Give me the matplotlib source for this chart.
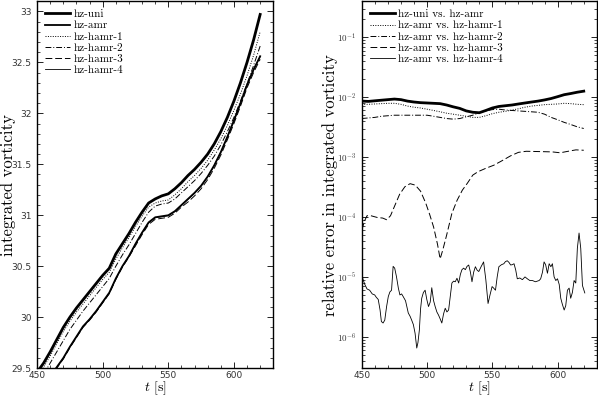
import matplotlib
matplotlib.use('Agg')
import matplotlib.pyplot as plt
from matplotlib.ticker import MultipleLocator, LogLocator, NullFormatter, FuncFormatter
import math

plt.rcParams['mathtext.fontset'] = 'cm'
plt.rcParams['axes.unicode_minus'] = False

# ---Left panel: integrated vorticity---
t = [450, 455, 460, 465, 470, 475, 480, 485, 490, 495, 500, 505, 510, 515, 520, 525,
     530, 535, 540, 545, 550, 555, 560, 565, 570, 575, 580, 585, 590, 595, 600, 605,
     610, 615, 620]
hz_uni = [29.46, 29.55, 29.66, 29.78, 29.90, 30.00, 30.09, 30.17, 30.25, 30.33, 30.41,
          30.48, 30.62, 30.72, 30.82, 30.93, 31.03, 31.12, 31.16, 31.19, 31.21, 31.26,
          31.32, 31.39, 31.45, 31.52, 31.60, 31.70, 31.82, 31.96, 32.12, 32.30, 32.50,
          32.72, 32.97]
hz_amr = [29.27, 29.34, 29.42, 29.51, 29.60, 29.71, 29.81, 29.91, 29.98, 30.06, 30.15,
          30.24, 30.38, 30.50, 30.60, 30.72, 30.83, 30.93, 30.98, 30.99, 31.00, 31.04,
          31.10, 31.16, 31.22, 31.29, 31.38, 31.49, 31.62, 31.77, 31.93, 32.10, 32.28,
          32.43, 32.56]
hz_hamr1 = [29.42, 29.51, 29.62, 29.74, 29.86, 29.96, 30.05, 30.13, 30.21, 30.29, 30.37,
            30.44, 30.57, 30.68, 30.78, 30.89, 30.99, 31.08, 31.12, 31.14, 31.15, 31.20,
            31.26, 31.33, 31.39, 31.46, 31.54, 31.64, 31.75, 31.88, 32.03, 32.19, 32.37,
            32.57, 32.80]
hz_hamr2 = [29.36, 29.44, 29.55, 29.66, 29.77, 29.88, 29.97, 30.06, 30.14, 30.22, 30.30,
            30.38, 30.50, 30.61, 30.71, 30.82, 30.93, 31.03, 31.09, 31.11, 31.12, 31.16,
            31.22, 31.28, 31.34, 31.41, 31.49, 31.58, 31.69, 31.82, 31.96, 32.12, 32.29,
            32.47, 32.66]
hz_hamr3 = [29.26, 29.33, 29.41, 29.50, 29.59, 29.70, 29.80, 29.90, 29.97, 30.05, 30.14,
            30.23, 30.37, 30.49, 30.59, 30.70, 30.81, 30.91, 30.96, 30.97, 30.98, 31.02,
            31.08, 31.13, 31.19, 31.26, 31.35, 31.46, 31.59, 31.74, 31.90, 32.07, 32.25,
            32.40, 32.53]
hz_hamr4 = [29.265, 29.335, 29.415, 29.505, 29.595, 29.705, 29.805, 29.905, 29.975,
            30.055, 30.145, 30.235, 30.375, 30.495, 30.595, 30.715, 30.825, 30.925,
            30.975, 30.985, 30.995, 31.035, 31.095, 31.155, 31.215, 31.285, 31.375,
            31.485, 31.615, 31.765, 31.925, 32.095, 32.275, 32.425, 32.555]

# ---Right panel: relative errors---
t_err = [450, 455, 460, 465, 470, 475, 480, 485, 490, 495, 500, 505, 510, 515, 520, 525,
         530, 535, 540, 545, 550, 555, 560, 565, 570, 575, 580, 585, 590, 595, 600, 605,
         610, 615, 620]
err_uni_amr = [8.6e-3, 8.5e-3, 8.7e-3, 8.9e-3, 9.1e-3, 9.3e-3, 9.1e-3, 8.6e-3, 8.3e-3,
               8.1e-3, 8.0e-3, 7.9e-3, 7.8e-3, 7.4e-3, 6.9e-3, 6.5e-3, 5.9e-3, 5.6e-3,
               5.5e-3, 6.0e-3, 6.6e-3, 7.0e-3, 7.2e-3, 7.4e-3, 7.7e-3, 8.0e-3, 8.3e-3,
               8.6e-3, 9.0e-3, 9.5e-3, 1.02e-2, 1.1e-2, 1.15e-2, 1.21e-2, 1.26e-2]
err_amr_hamr1 = [7.6e-3, 7.6e-3, 7.7e-3, 7.8e-3, 7.9e-3, 7.9e-3, 7.6e-3, 7.1e-3, 6.8e-3,
                 6.6e-3, 6.3e-3, 6.0e-3, 5.7e-3, 5.4e-3, 5.2e-3, 5.0e-3, 4.8e-3, 4.6e-3,
                 4.6e-3, 4.9e-3, 5.3e-3, 5.6e-3, 5.8e-3, 6.1e-3, 6.4e-3, 6.8e-3, 7.1e-3,
                 7.3e-3, 7.5e-3, 7.6e-3, 7.7e-3, 7.9e-3, 7.8e-3, 7.6e-3, 7.5e-3]
err_amr_hamr2 = [4.4e-3, 4.5e-3, 4.6e-3, 4.8e-3, 4.9e-3, 5.0e-3, 5.0e-3, 5.0e-3, 5.0e-3,
                 5.0e-3, 5.0e-3, 4.8e-3, 4.6e-3, 4.4e-3, 4.3e-3, 4.4e-3, 4.7e-3, 5.0e-3,
                 5.5e-3, 5.9e-3, 6.2e-3, 6.3e-3, 6.1e-3, 6.0e-3, 5.9e-3, 5.8e-3, 5.7e-3,
                 5.6e-3, 5.2e-3, 4.6e-3, 4.2e-3, 3.8e-3, 3.5e-3, 3.2e-3, 3.0e-3]
t_err3 = [450, 452, 454, 457, 462, 466, 469, 472, 475, 479, 483, 487, 491, 495, 499, 502,
          505, 508, 510, 512, 515, 519, 523, 527, 531, 535, 539, 545, 551, 557, 564, 570,
          576, 583, 590, 596, 602, 608, 614, 620]
err_amr_hamr3 = [6.0e-5, 8.5e-5, 1.05e-4, 1.05e-4, 9.8e-5, 9.6e-5, 9.0e-5, 1.05e-4,
                 1.5e-4, 2.4e-4, 3.2e-4, 3.6e-4, 3.4e-4, 2.7e-4, 1.7e-4, 1.1e-4, 6.8e-5,
                 3.5e-5, 2.0e-5, 2.8e-5, 5.0e-5, 1.15e-4, 1.9e-4, 2.8e-4, 3.7e-4, 5.0e-4,
                 5.7e-4, 6.5e-4, 7.3e-4, 8.6e-4, 1.05e-3, 1.2e-3, 1.25e-3, 1.24e-3,
                 1.23e-3, 1.22e-3, 1.18e-3, 1.25e-3, 1.32e-3, 1.3e-3]
t_err4 = [450, 451, 452.3, 454, 456, 458, 459.9, 461, 462.6, 464, 465, 466.3, 467.6, 469,
          470.3, 471.5, 472.8, 474, 475.2, 476.6, 478, 479.2, 480.5, 481.7, 483.5, 485.6,
          487, 488.2, 489.5, 490.8, 492.1, 493, 494.1, 495, 495.9, 497.2, 498.5, 499.8,
          501.1, 502.4, 503.6, 505, 506.2, 507.5, 508.8, 510, 511.3, 512.6, 513.9, 515.2,
          516.5, 517.8, 519, 520.3, 521.6, 522.9, 524.2, 525.5, 526.7, 528, 529.3, 530.6,
          531.9, 533.2, 534.4, 535.7, 537, 538.3, 539.6, 541.5, 543.3, 545, 546.7, 548.2,
          549.8, 551, 552.4, 553.7, 555, 557, 558.8, 560, 561.4, 562.7, 564, 565.3, 566.6,
          567.9, 569.1, 571, 573, 575, 576.8, 578.7, 580.7, 583, 585.8, 587, 588.4, 589.6,
          590.8, 592.2, 593.5, 594.8, 596, 597.3, 598.6, 599.9, 601.2, 602.4, 603.6, 605,
          606.2, 607.5, 608.8, 610, 611.3, 612.6, 613.9, 615.1, 616.4, 617.7, 619, 620.8]
err_amr_hamr4 = [1.1e-5, 9.0e-6, 7.5e-6, 6.3e-6, 6.0e-6, 5.2e-6, 5.0e-6, 4.6e-6, 4.2e-6,
                 2.8e-6, 1.8e-6, 1.7e-6, 1.9e-6, 3.2e-6, 4.7e-6, 5.6e-6, 6.0e-6, 1.5e-5,
                 1.4e-5, 1.0e-5, 6.5e-6, 5.0e-6, 5.2e-6, 4.7e-6, 4.0e-6, 2.5e-6, 2.2e-6,
                 1.9e-6, 1.6e-6, 1.15e-6, 6.5e-7, 8.0e-7, 1.3e-6, 2.9e-6, 4.4e-6, 5.5e-6,
                 6.0e-6, 4.2e-6, 3.2e-6, 3.8e-6, 6.6e-6, 4.0e-6, 3.2e-6, 2.6e-6, 2.3e-6,
                 2.0e-6, 1.7e-6, 2.4e-6, 3.0e-6, 2.6e-6, 2.8e-6, 4.8e-6, 7.9e-6, 8.5e-6,
                 8.3e-6, 9.5e-6, 7.9e-6, 1.1e-5, 1.32e-5, 1.4e-5, 1.32e-5, 1.5e-5, 1.58e-5,
                 1.2e-5, 8.3e-6, 1.2e-5, 1.48e-5, 1.3e-5, 1.23e-5, 1.5e-5, 1.78e-5, 9.0e-6,
                 3.6e-6, 5.0e-6, 6.9e-6, 6.5e-6, 6.0e-6, 1.0e-5, 1.48e-5, 1.6e-5, 1.66e-5,
                 1.8e-5, 1.86e-5, 1.75e-5, 1.58e-5, 1.6e-5, 1.66e-5, 1.3e-5, 9.3e-6, 9.6e-6,
                 9.0e-6, 1.0e-5, 9.3e-6, 8.7e-6, 8.7e-6, 8.3e-6, 8.7e-6, 9.3e-6,
                 1.2e-5, 1.78e-5, 1.6e-5, 1.15e-5, 1.66e-5, 1.48e-5, 1.66e-5, 1.0e-5,
                 8.7e-6, 9.3e-6, 7.5e-6, 4.4e-6, 3.5e-6, 2.8e-6, 3.3e-6, 6.0e-6, 6.5e-6,
                 4.4e-6, 5.5e-6, 8.7e-6, 7.9e-6, 3.0e-5, 5.4e-5, 3.0e-5, 7.2e-6, 5.4e-6]

serif = 'cmr10'
sans = 'DejaVu Sans'

fig = plt.figure(figsize=(5.98, 3.98), dpi=100)
ax1 = fig.add_axes([0.062, 0.075, 0.395, 0.922])
ax2 = fig.add_axes([0.605, 0.075, 0.393, 0.922])

leg_kw = dict(loc='upper left', frameon=False, prop={'family': serif, 'size': 8},
              handlelength=2.25, labelspacing=0.12, borderaxespad=0.35, handletextpad=0.3)

# ---Left---
ax1.plot(t, hz_uni, color='black', lw=2.0, label='hz-uni')
ax1.plot(t, hz_amr, color='black', lw=1.3, label='hz-amr')
ax1.plot(t, hz_hamr1, color='black', lw=0.7, ls=(0, (1, 1.5)), label='hz-hamr-1')
ax1.plot(t, hz_hamr2, color='black', lw=0.7, ls=(0, (6, 2, 1, 2)), label='hz-hamr-2')
ax1.plot(t, hz_hamr3, color='black', lw=0.7, ls=(0, (7, 3)), label='hz-hamr-3')
ax1.plot(t, hz_hamr4, color='black', lw=0.6, label='hz-hamr-4')
ax1.set_xlim(450, 630)
ax1.set_ylim(29.5, 33.1)
ax1.xaxis.set_major_locator(MultipleLocator(50))
ax1.xaxis.set_minor_locator(MultipleLocator(10))
ax1.yaxis.set_major_locator(MultipleLocator(0.5))
ax1.yaxis.set_minor_locator(MultipleLocator(0.1))
ax1.yaxis.set_major_formatter(FuncFormatter(lambda v, p: '%g' % v))
ax1.set_ylabel('integrated vorticity', fontname=serif, fontsize=12)
ax1.yaxis.set_label_coords(-0.088, 0.5)
ax1.legend(**leg_kw)

# ---Right---
ax2.plot(t_err, err_uni_amr, color='black', lw=2.0, label='hz-uni vs. hz-amr')
ax2.plot(t_err, err_amr_hamr1, color='black', lw=0.7, ls=(0, (1, 1.5)), label='hz-amr vs. hz-hamr-1')
ax2.plot(t_err, err_amr_hamr2, color='black', lw=0.7, ls=(0, (6, 2, 1, 2)), label='hz-amr vs. hz-hamr-2')
ax2.plot(t_err3, err_amr_hamr3, color='black', lw=0.7, ls=(0, (7, 3)), label='hz-amr vs. hz-hamr-3')
ax2.plot(t_err4, err_amr_hamr4, color='black', lw=0.6, label='hz-amr vs. hz-hamr-4')
ax2.set_yscale('log')
ax2.set_xlim(450, 630)
ax2.set_ylim(3e-7, 0.4)
ax2.xaxis.set_major_locator(MultipleLocator(50))
ax2.xaxis.set_minor_locator(MultipleLocator(10))
ax2.yaxis.set_major_locator(LogLocator(base=10, numticks=12))
ax2.yaxis.set_minor_locator(LogLocator(base=10, subs=range(2, 10), numticks=12))
ax2.yaxis.set_major_formatter(FuncFormatter(lambda v, p: r'$\mathsf{10^{%d}}$' % round(math.log10(v))))
ax2.yaxis.set_minor_formatter(NullFormatter())
ax2.set_ylabel('relative error in integrated vorticity', fontname=serif, fontsize=12)
ax2.yaxis.set_label_coords(-0.10, 0.5)
ax2.legend(**leg_kw)

for ax in (ax1, ax2):
    ax.set_xlabel('$t$ [s]', fontname=serif, fontsize=10)
    ax.xaxis.set_label_coords(0.5, -0.031)
    ax.tick_params(which='both', direction='in', top=True, right=True)
    ax.tick_params(which='major', length=4, width=0.6, labelsize=6.5, colors='black', labelcolor='#333333')
    ax.tick_params(axis='y', which='major', pad=4)
    ax.tick_params(axis='x', which='major', pad=2)
    ax.tick_params(which='minor', length=2, width=0.5)
    for lab in ax.get_xticklabels() + ax.get_yticklabels():
        lab.set_fontfamily(sans)
    for s in ax.spines.values():
        s.set_linewidth(1.0)

fig.savefig('out.png', dpi=100)
